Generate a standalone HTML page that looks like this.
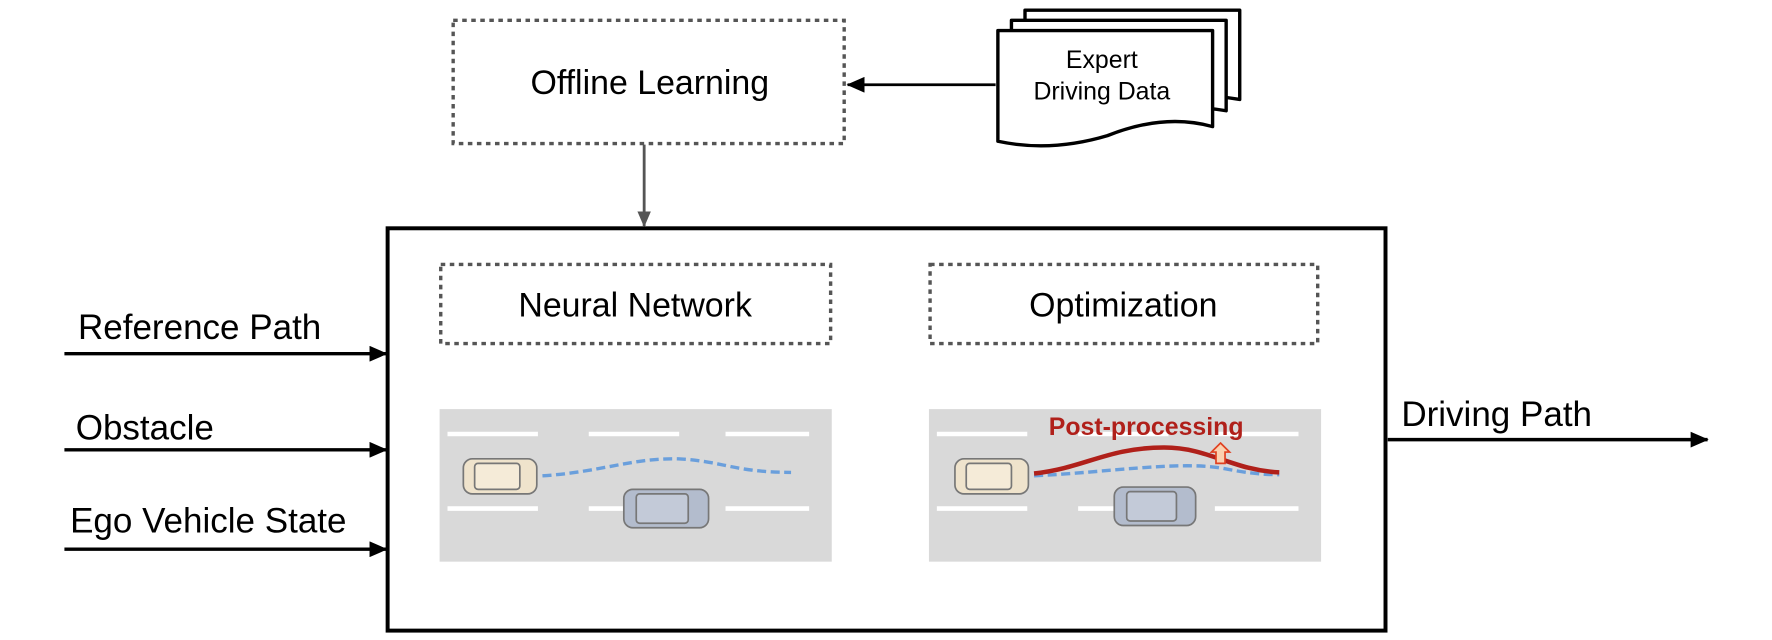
<!DOCTYPE html>
<html><head><meta charset="utf-8"><style>html,body{margin:0;padding:0;background:#fff}svg{display:block}</style></head>
<body>
<svg width="1772" height="640" viewBox="0 0 1568 566.3" xmlns="http://www.w3.org/2000/svg" font-family="'Liberation Sans', sans-serif">
<defs>
<marker id="ah" markerWidth="16" markerHeight="14" refX="15" refY="7" orient="auto" markerUnits="userSpaceOnUse"><path d="M0,0 L16,7 L0,14 z" fill="#000"/></marker>
<marker id="ahg" markerWidth="14" markerHeight="12" refX="13" refY="6" orient="auto" markerUnits="userSpaceOnUse"><path d="M0,0 L14,6 L0,12 z" fill="#555"/></marker>
</defs>
<rect x="401" y="18" width="346" height="109" fill="#fff" stroke="#555" stroke-width="3" stroke-dasharray="4,4"/>
<text x="575" y="83" font-size="30" text-anchor="middle">Offline Learning</text>
<g fill="#fff" stroke="#000" stroke-width="3" stroke-linejoin="round">
<path d="M907,9 H1097 V88 Q1050,80 1000,92 H907 Z"/>
<path d="M895,18 H1085 V98 Q1040,90 990,102 H895 Z"/>
<path d="M883,27 H1073 V112 Q1030,100 980,120 Q930,135 883,125 Z"/>
</g>
<text x="975" y="60" font-size="22" text-anchor="middle">Expert</text>
<text x="975" y="88" font-size="22" text-anchor="middle">Driving Data</text>
<line x1="881" y1="75" x2="750" y2="75" stroke="#000" stroke-width="2.5" marker-end="url(#ah)"/>
<line x1="570" y1="128" x2="570" y2="200" stroke="#555" stroke-width="2.5" marker-end="url(#ahg)"/>
<rect x="343" y="202" width="883" height="356" fill="none" stroke="#000" stroke-width="3.5"/>
<text x="69" y="300" font-size="31">Reference Path</text>
<text x="67" y="389" font-size="31">Obstacle</text>
<text x="62" y="471" font-size="31">Ego Vehicle State</text>
<g stroke="#000" stroke-width="3">
<line x1="57" y1="313" x2="342" y2="313" marker-end="url(#ah)"/>
<line x1="57" y1="398" x2="342" y2="398" marker-end="url(#ah)"/>
<line x1="57" y1="486" x2="342" y2="486" marker-end="url(#ah)"/>
<line x1="1228" y1="389" x2="1511" y2="389" marker-end="url(#ah)"/>
</g>
<text x="1240" y="377" font-size="31">Driving Path</text>
<rect x="390" y="234" width="345" height="70" fill="none" stroke="#555" stroke-width="3" stroke-dasharray="4,4"/>
<text x="562" y="280" font-size="30" text-anchor="middle">Neural Network</text>
<rect x="823" y="234" width="343" height="70" fill="none" stroke="#555" stroke-width="3" stroke-dasharray="4,4"/>
<text x="994" y="280" font-size="30" text-anchor="middle">Optimization</text>
<g>
<rect x="389" y="362" width="347" height="135" fill="#d9d9d9"/>
<rect x="822" y="362" width="347" height="135" fill="#d9d9d9"/>
<g stroke="#fff" stroke-width="4">
<line x1="396" y1="384" x2="476" y2="384"/><line x1="521" y1="384" x2="601" y2="384"/><line x1="642" y1="384" x2="716" y2="384"/>
<line x1="396" y1="450" x2="476" y2="450"/><line x1="521" y1="450" x2="601" y2="450"/><line x1="642" y1="450" x2="716" y2="450"/>
<line x1="829" y1="384" x2="909" y2="384"/><line x1="954" y1="384" x2="1034" y2="384"/><line x1="1075" y1="384" x2="1149" y2="384"/>
<line x1="829" y1="450" x2="909" y2="450"/><line x1="954" y1="450" x2="1034" y2="450"/><line x1="1075" y1="450" x2="1149" y2="450"/>
</g>
</g>
<g stroke="#777" stroke-width="1.5">
<rect x="410" y="406" width="65" height="31" rx="8" fill="#efe3cc"/>
<rect x="420" y="410" width="40" height="23" rx="3" fill="#f5ebd8"/>
<rect x="552" y="433" width="75" height="34" rx="8" fill="#b3bccd"/>
<rect x="563" y="437" width="46" height="26" rx="3" fill="#c3cad8"/>
<rect x="845" y="406" width="65" height="31" rx="8" fill="#efe3cc"/>
<rect x="855" y="410" width="40" height="23" rx="3" fill="#f5ebd8"/>
<rect x="986" y="431" width="72" height="34" rx="8" fill="#b3bccd"/>
<rect x="997" y="435" width="44" height="26" rx="3" fill="#c3cad8"/>
</g>
<path d="M480,421 C530,418 560,405 600,406 C640,408 650,418 700,418" fill="none" stroke="#6a9fdc" stroke-width="3" stroke-dasharray="8,4"/>
<path d="M915,421 C980,418 1040,408 1080,414 C1100,418 1115,420 1132,420" fill="none" stroke="#6a9fdc" stroke-width="3" stroke-dasharray="8,4"/>
<path d="M915,419 C960,414 980,396 1030,396 C1070,396 1090,416 1132,418" fill="none" stroke="#b0201a" stroke-width="4"/>
<path d="M1080,392 L1088,400 L1084,400 L1084,410 L1076,410 L1076,400 L1072,400 Z" fill="#fbd1b0" stroke="#e04020" stroke-width="1.5"/>
<text x="928" y="385" font-size="22" font-weight="bold" fill="#b0201a">Post-processing</text>
</svg>
</body></html>
